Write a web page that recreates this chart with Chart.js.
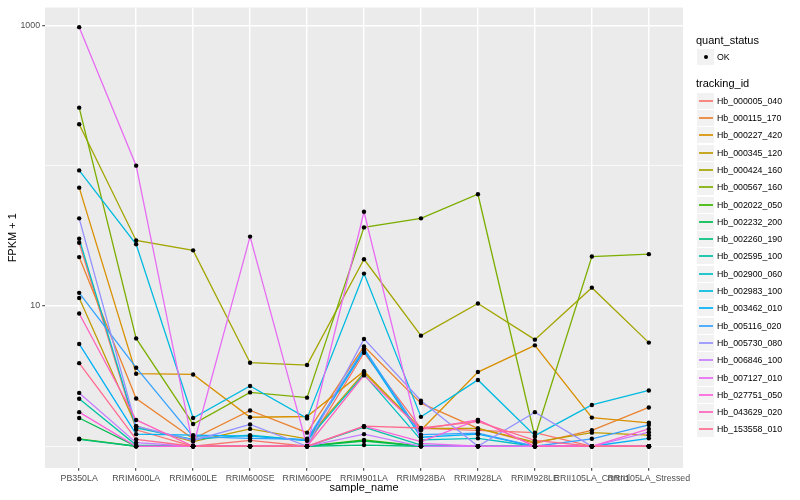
<!DOCTYPE html>
<html><head><meta charset="utf-8">
<script src="https://cdn.jsdelivr.net/npm/chart.js@4.4.1/dist/chart.umd.min.js"></script>
<style>
html,body{margin:0;padding:0;background:#fff;}
#wrap{position:relative;width:800px;height:500px;font-family:"Liberation Sans",Arial,Helvetica,sans-serif;overflow:hidden;}
canvas{position:absolute;left:0;top:0;}
.lg{position:absolute;white-space:nowrap;color:#000;}
.ttl{font-size:11px;line-height:13px;height:13px;}
.lab{font-size:8.8px;line-height:10px;height:10px;}
.key{position:absolute;width:17px;height:16px;background:#F2F2F2;}
.kline{position:absolute;left:2px;width:14px;height:2px;top:7px;opacity:0.85;}
.kdot{position:absolute;left:7px;top:6px;width:4px;height:4px;border-radius:50%;background:#000;}
</style></head><body>
<div id="wrap"><canvas id="c" width="800" height="500"></canvas><div id="legend"></div></div>
<script>
// ---- data ----
const categories = ["PB350LA","RRIM600LA","RRIM600LE","RRIM600SE","RRIM600PE","RRIM901LA","RRIM928BA","RRIM928LA","RRIM928LE","RRII105LA_Control","RRII105LA_Stressed"];
const trackingIds = ["Hb_000005_040","Hb_000115_170","Hb_000227_420","Hb_000345_120","Hb_000424_160","Hb_000567_160","Hb_002022_050","Hb_002232_200","Hb_002260_190","Hb_002595_100","Hb_002900_060","Hb_002983_100","Hb_003462_010","Hb_005116_020","Hb_005730_080","Hb_006846_100","Hb_007127_010","Hb_027751_050","Hb_043629_020","Hb_153558_010"];
const seriesColors = ["#F8766D","#EA8331","#D89000","#C09B00","#A3A500","#7CAE00","#39B600","#00BB4E","#00BF7D","#00C1A3","#00BFC4","#00BAE0","#00B0F6","#35A2FF","#9590FF","#C77CFF","#E76BF3","#FA62DB","#FF62BC","#FF6C91"];
// FPKM + 1 values, one array per tracking id (order = categories)
const hb_000005_040 = [28.2, 1.31, 1.0, 1.1, 1.0, 4.63, 1.34, 1.30, 1.25, 1.0, 1.0];
const hb_000115_170 = [22.3, 2.19, 1.13, 1.80, 1.25, 5.15, 2.03, 1.34, 1.05, 1.30, 1.89];
const hb_000227_420 = [69.7, 3.29, 3.25, 1.61, 1.63, 3.43, 1.30, 3.38, 5.24, 1.60, 1.47];
const hb_000345_120 = [11.4, 1.39, 1.08, 1.33, 1.13, 3.35, 1.34, 1.34, 1.07, 1.25, 1.20];
const hb_000424_160 = [197, 29.3, 24.9, 3.94, 3.79, 21.5, 6.14, 10.4, 5.75, 13.5, 5.48];
const hb_000567_160 = [259, 5.87, 1.44, 2.42, 2.22, 36.3, 42.1, 62.5, 1.17, 22.5, 23.4];
const hb_002022_050 = [1.13, 1.0, 1.0, 1.0, 1.0, 1.11, 1.0, 1.0, 1.0, 1.0, 1.0];
const hb_002232_200 = [1.59, 1.0, 1.0, 1.0, 1.0, 1.09, 1.0, 1.0, 1.0, 1.0, 1.0];
const hb_002260_190 = [1.12, 1.0, 1.0, 1.0, 1.0, 1.02, 1.0, 1.0, 1.0, 1.0, 1.0];
const hb_002595_100 = [2.18, 1.02, 1.0, 1.0, 1.0, 1.37, 1.02, 1.0, 1.0, 1.0, 1.0];
const hb_002900_060 = [30.1, 1.35, 1.12, 1.20, 1.10, 3.25, 1.11, 1.14, 1.0, 1.0, 1.0];
const hb_002983_100 = [92.5, 27.5, 1.59, 2.69, 1.58, 17.0, 1.62, 2.97, 1.19, 1.97, 2.50];
const hb_003462_010 = [5.36, 1.22, 1.20, 1.18, 1.10, 4.81, 1.16, 1.22, 1.0, 1.0, 1.14];
const hb_005116_020 = [12.4, 3.63, 1.17, 1.14, 1.12, 4.97, 1.21, 1.24, 1.0, 1.13, 1.42];
const hb_005730_080 = [42.1, 1.39, 1.10, 1.43, 1.0, 5.82, 2.11, 1.0, 1.75, 1.0, 1.0];
const hb_006846_100 = [2.40, 1.06, 1.0, 1.0, 1.0, 1.22, 1.0, 1.0, 1.0, 1.0, 1.26];
const hb_007127_010 = [970, 100, 1.0, 31.2, 1.0, 46.9, 1.05, 1.0, 1.0, 1.0, 1.0];
const hb_027751_050 = [1.75, 1.0, 1.0, 1.0, 1.0, 1.39, 1.08, 1.54, 1.0, 1.0, 1.33];
const hb_043629_020 = [8.83, 1.54, 1.0, 1.0, 1.0, 3.20, 1.32, 1.54, 1.0, 1.0, 1.0];
const hb_153558_010 = [3.91, 1.12, 1.0, 1.0, 1.0, 1.39, 1.35, 1.50, 1.10, 1.0, 1.0];
const seriesValues = [hb_000005_040,hb_000115_170,hb_000227_420,hb_000345_120,hb_000424_160,hb_000567_160,hb_002022_050,hb_002232_200,hb_002260_190,hb_002595_100,hb_002900_060,hb_002983_100,hb_003462_010,hb_005116_020,hb_005730_080,hb_006846_100,hb_007127_010,hb_027751_050,hb_043629_020,hb_153558_010];
const yGridValues = [1, 10, 100, 1000];
const yTickLabels = [10, 1000];
const quantStatus = ["OK"];

// ---- chart ----
const FONT = '"Liberation Sans", Arial, Helvetica, sans-serif';
const datasets = seriesValues.map((vals, i) => ({
  type: 'line',
  label: trackingIds[i],
  data: vals.map((v, j) => ({x: j, y: v})),
  borderColor: seriesColors[i],
  backgroundColor: seriesColors[i],
  borderWidth: 1.3,
  pointRadius: 0,
  fill: false,
  tension: 0,
  order: seriesValues.length - i
}));
const allPoints = [];
seriesValues.forEach(vals => vals.forEach((v, j) => allPoints.push({x: j, y: v})));
datasets.push({
  type: 'scatter',
  label: quantStatus[0],
  data: allPoints,
  pointRadius: 2.2,
  pointBackgroundColor: '#000',
  pointBorderWidth: 0,
  showLine: false,
  order: -1
});

const panelBg = {
  id: 'panelBg',
  beforeDraw(chart) {
    const {ctx, chartArea: a} = chart;
    ctx.save();
    ctx.fillStyle = '#EBEBEB';
    ctx.fillRect(a.left, a.top, a.right - a.left, a.bottom - a.top);
    ctx.restore();
  }
};

const isMajorY = v => yTickLabels.includes(v);

new Chart(document.getElementById('c'), {
  data: {datasets},
  options: {
    responsive: false,
    animation: false,
    devicePixelRatio: 1,
    layout: {padding: {top: 5, right: 117, bottom: 0, left: 0}},
    plugins: {legend: {display: false}, tooltip: {enabled: false}},
    scales: {
      x: {
        type: 'linear',
        min: -0.6,
        max: categories.length - 1 + 0.6,
        afterBuildTicks: s => { s.ticks = categories.map((c, i) => ({value: i})); },
        afterFit: s => { s.height = 32; },
        ticks: {
          autoSkip: false, maxRotation: 0, minRotation: 0,
          padding: 2.2, color: '#4D4D4D',
          font: {family: FONT, size: 8.8},
          callback: v => categories[v]
        },
        grid: {color: '#FFFFFF', lineWidth: 1.42, tickLength: 2.75, tickColor: '#333333', tickWidth: 1},
        border: {display: false},
        title: {display: true, text: 'sample_name', color: '#000', font: {family: FONT, size: 11}, padding: {top: 0, bottom: 5}}
      },
      y: {
        type: 'logarithmic',
        min: 0.716,
        max: 1340,
        afterBuildTicks: s => { s.ticks = yGridValues.map(v => ({value: v})); },
        afterFit: s => { s.width = 45; },
        ticks: {
          autoSkip: false, padding: 2.2, color: '#4D4D4D',
          font: {family: FONT, size: 8.8},
          callback: v => isMajorY(v) ? String(v) : ''
        },
        grid: {
          color: '#FFFFFF',
          lineWidth: c => (c.tick && isMajorY(c.tick.value)) ? 1.42 : 0.71,
          tickLength: 2.75,
          tickColor: c => (c.tick && isMajorY(c.tick.value)) ? '#333333' : 'rgba(0,0,0,0)',
          tickWidth: 1
        },
        border: {display: false},
        title: {display: true, text: 'FPKM + 1', color: '#000', font: {family: FONT, size: 11}, padding: {top: 6.5, bottom: 0}}
      }
    }
  },
  plugins: [panelBg]
});

// ---- legend (HTML) ----
const lg = document.getElementById('legend');
function add(html) { lg.insertAdjacentHTML('beforeend', html); }
add(`<div class="lg ttl" style="left:696px;top:34px">quant_status</div>`);
add(`<div class="key" style="left:697px;top:49px"><div class="kdot"></div></div>`);
add(`<div class="lg lab" style="left:717px;top:52px">${quantStatus[0]}</div>`);
add(`<div class="lg ttl" style="left:696px;top:77px">tracking_id</div>`);
trackingIds.forEach((id, i) => {
  const cy = Math.round(100.7 + i * 17.3);
  add(`<div class="key" style="left:697px;top:${cy - 8}px"><div class="kline" style="background:${seriesColors[i]}"></div></div>`);
  add(`<div class="lg lab" style="left:717px;top:${cy - 5}px">${id}</div>`);
});
</script>
</body></html>
